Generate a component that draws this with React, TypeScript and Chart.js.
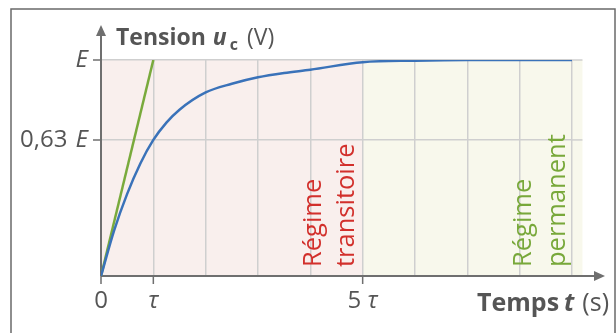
import React, { useEffect, useRef } from "react";
import { Chart, registerables } from "chart.js";
Chart.register(...registerables);

// time in units of tau
const timeTau = [0, 0.25, 0.5, 0.75, 1, 1.25, 1.5, 2, 2.5, 3, 3.5, 4, 5, 6, 7, 8, 9];
// u_c as a fraction of E
const tensionUc = [0, 0.21, 0.38, 0.52, 0.63, 0.71, 0.77, 0.85, 0.89, 0.92, 0.94, 0.955, 0.99, 0.997, 1, 1, 1];
// tangent at origin
const tangentT = [0, 1];
const tangentU = [0, 1];

const xGridValues = [0, 1, 2, 3, 4, 5, 6, 7, 8, 9];
const xTickValues = [0, 1, 5];
const xTickNumbers = ["0", "", "5 "];
const xTickSymbols = ["", "τ", "τ"];
const yGridValues = [0, 0.63, 1];
const yTickValues = [0.63, 1];
const yTickNumbers = ["0,63 ", ""];

const transitionEnd = 5;
const plotEnd = 9.2;

const FONT = "'Open Sans', sans-serif";
const AXIS = "#6f6f6f";
const TEXT = "#555555";

const drawPlugin = {
  id: "decor",
  beforeDraw(chart: any) {
    const { ctx } = chart;
    const xs = chart.scales.x;
    const ys = chart.scales.y;
    ctx.save();
    ctx.fillStyle = "#ffffff";
    ctx.fillRect(0, 0, chart.width, chart.height);
    // frame
    ctx.strokeStyle = "#6a6a6a";
    ctx.lineWidth = 1.5;
    ctx.strokeRect(11, 9, 604, 340);
    const top = ys.getPixelForValue(1);
    const bot = ys.getPixelForValue(0);
    const x0 = xs.getPixelForValue(0);
    const x5 = xs.getPixelForValue(transitionEnd);
    const xe = xs.getPixelForValue(plotEnd);
    ctx.fillStyle = "#f9efed";
    ctx.fillRect(x0, top, x5 - x0, bot - top);
    ctx.fillStyle = "#f8f8ec";
    ctx.fillRect(x5, top, xe - x5, bot - top);
    ctx.strokeStyle = "#cfcfcf";
    ctx.lineWidth = 1.5;
    yGridValues.forEach((v) => {
      if (v === 0) return;
      const y = ys.getPixelForValue(v);
      ctx.beginPath();
      ctx.moveTo(xs.getPixelForValue(9), y);
      ctx.lineTo(xe, y);
      ctx.stroke();
    });
    ctx.restore();
  },
  beforeDatasetsDraw(chart: any) {
    const { ctx } = chart;
    const xs = chart.scales.x;
    const ys = chart.scales.y;
    const x0 = xs.getPixelForValue(0);
    const y0 = ys.getPixelForValue(0);
    ctx.save();
    // rotated regime labels
    ctx.font = `25.5px ${FONT}`;
    ctx.textAlign = "left";
    ctx.textBaseline = "alphabetic";
    const rot = (text: string, xv: number, color: string) => {
      ctx.save();
      ctx.translate(xs.getPixelForValue(xv), y0 - 9);
      ctx.rotate(-Math.PI / 2);
      ctx.fillStyle = color;
      ctx.fillText(text, 0, 0);
      ctx.restore();
    };
    rot("Régime", 4.2, "#d2302c");
    rot("transitoire", 4.83, "#d2302c");
    rot("Régime", 8.21, "#78a83a");
    rot("permanent", 8.86, "#78a83a");

    // axes
    ctx.strokeStyle = AXIS;
    ctx.fillStyle = AXIS;
    ctx.lineWidth = 2;
    ctx.beginPath();
    ctx.moveTo(x0, y0);
    ctx.lineTo(x0, 34);
    ctx.moveTo(x0, y0);
    ctx.lineTo(596, y0);
    ctx.stroke();
    ctx.beginPath();
    ctx.moveTo(x0, 25);
    ctx.lineTo(x0 - 5, 36);
    ctx.lineTo(x0 + 5, 36);
    ctx.closePath();
    ctx.fill();
    ctx.beginPath();
    ctx.moveTo(605, y0);
    ctx.lineTo(594, y0 - 5);
    ctx.lineTo(594, y0 + 5);
    ctx.closePath();
    ctx.fill();
    // tick marks
    ctx.lineWidth = 1.5;
    ctx.beginPath();
    xTickValues.forEach((v) => {
      const x = xs.getPixelForValue(v);
      ctx.moveTo(x, y0);
      ctx.lineTo(x, y0 + 8);
    });
    yTickValues.forEach((v) => {
      const y = ys.getPixelForValue(v);
      ctx.moveTo(x0, y);
      ctx.lineTo(x0 - 8, y);
    });
    ctx.stroke();

    // tick labels
    ctx.fillStyle = TEXT;
    ctx.textBaseline = "middle";
    yTickValues.forEach((v, i) => {
      const y = ys.getPixelForValue(v);
      ctx.font = `italic 24px ${FONT}`;
      ctx.textAlign = "right";
      const wE = ctx.measureText("E").width;
      ctx.fillText("E", 88, y);
      ctx.font = `24px ${FONT}`;
      ctx.fillText(yTickNumbers[i], 86 - wE, y);
    });
    ctx.textAlign = "left";
    xTickValues.forEach((v, i) => {
      const x = xs.getPixelForValue(v);
      ctx.font = `24px ${FONT}`;
      const wn = ctx.measureText(xTickNumbers[i]).width;
      ctx.font = `italic 24px ${FONT}`;
      const ws = ctx.measureText(xTickSymbols[i]).width;
      const start = x - (wn + ws) / 2;
      ctx.font = `24px ${FONT}`;
      ctx.fillText(xTickNumbers[i], start, 301);
      ctx.font = `italic 24px ${FONT}`;
      ctx.fillText(xTickSymbols[i], start + wn, 301);
    });

    // axis titles
    ctx.textAlign = "left";
    ctx.textBaseline = "alphabetic";
    let x = 116;
    const by = 45;
    ctx.font = `bold 23px ${FONT}`;
    ctx.fillText("Tension", x, by);
    x += ctx.measureText("Tension").width + 7;
    ctx.font = `italic bold 23px ${FONT}`;
    ctx.fillText("u", x, by);
    x += ctx.measureText("u").width + 3;
    ctx.font = `bold 16px ${FONT}`;
    ctx.fillText("c", x, by + 5);
    x += ctx.measureText("c").width + 9;
    ctx.font = `23px ${FONT}`;
    ctx.fillText("(V)", x, by);

    ctx.textAlign = "right";
    const ty = 311;
    let rx = 609;
    ctx.font = `25px ${FONT}`;
    ctx.fillText("(s)", rx, ty);
    rx -= ctx.measureText("(s)").width + 8;
    ctx.font = `italic bold 25px ${FONT}`;
    ctx.fillText("t", rx, ty);
    rx -= ctx.measureText("t").width + 5;
    ctx.font = `bold 25px ${FONT}`;
    ctx.fillText("Temps", rx, ty);
    ctx.restore();
  },
};

export default function App() {
  const ref = useRef<HTMLCanvasElement | null>(null);
  useEffect(() => {
    document.body.style.margin = "0";
    const canvas = ref.current!;
    const chart = new Chart(canvas, {
      type: "line",
      data: {
        datasets: [
          {
            label: "u_c",
            data: timeTau.map((t, i) => ({ x: t, y: tensionUc[i] })),
            borderColor: "#3a72b9",
            borderWidth: 2.5,
            pointRadius: 0,
            cubicInterpolationMode: "monotone",
            fill: false,
          },
          {
            label: "tangente",
            data: tangentT.map((t, i) => ({ x: t, y: tangentU[i] })),
            borderColor: "#79aa3c",
            borderWidth: 2.5,
            pointRadius: 0,
            fill: false,
          },
        ],
      },
      options: {
        responsive: false,
        animation: false,
        devicePixelRatio: 1,
        layout: { padding: { left: 0, top: 60, right: 44, bottom: 0 } },
        plugins: { legend: { display: false }, tooltip: { enabled: false } },
        scales: {
          x: {
            type: "linear",
            min: 0,
            max: 9,
            afterBuildTicks: (s: any) => {
              s.ticks = xGridValues.map((v) => ({ value: v }));
            },
            afterFit: (s: any) => {
              s.height = 57;
            },
            ticks: { display: false },
            grid: { color: "#cfcfcf", lineWidth: 1.5, drawTicks: false },
            border: { display: false },
          },
          y: {
            type: "linear",
            min: 0,
            max: 1,
            afterBuildTicks: (s: any) => {
              s.ticks = yGridValues.map((v) => ({ value: v }));
            },
            afterFit: (s: any) => {
              s.width = 101;
            },
            ticks: { display: false },
            grid: { color: "#cfcfcf", lineWidth: 1.5, drawTicks: false },
            border: { display: false },
          },
        },
      },
      plugins: [drawPlugin],
    } as any);
    return () => chart.destroy();
  }, []);
  return <canvas ref={ref} width={616} height={333} style={{ display: "block" }} />;
}
